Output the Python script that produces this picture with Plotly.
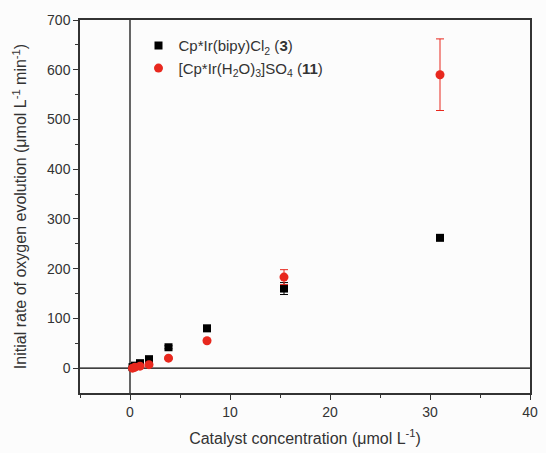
import plotly.graph_objects as go

conc = [0.25, 0.5, 1.0, 1.9, 3.85, 7.7, 15.4, 31.0]
rate3 = [2, 5, 10, 18, 42, 80, 160, 262]
err3 = [1, 1, 1, 2, 3, 6, 12, 5]
rate11 = [0, 2, 4, 7, 20, 55, 183, 590]
err11 = [1, 1, 1, 1, 2, 3, 15, 72]

fig = go.Figure()
fig.add_trace(go.Scatter(
    x=conc, y=rate3, mode="markers", name="Cp*Ir(bipy)Cl<sub>2</sub> (<b>3</b>)",
    marker=dict(symbol="square", size=8, color="black"),
    error_y=dict(type="data", array=err3, color="black", thickness=1, width=4)))
fig.add_trace(go.Scatter(
    x=conc, y=rate11, mode="markers", name="[Cp*Ir(H<sub>2</sub>O)<sub>3</sub>]SO<sub>4</sub> (<b>11</b>)",
    marker=dict(symbol="circle", size=9, color="#e8281e"),
    error_y=dict(type="data", array=err11, color="#e8281e", thickness=1, width=4)))

fig.add_shape(type="line", x0=-5, x1=40, y0=0, y1=0, line=dict(color="black", width=1.2), layer="below")
fig.add_shape(type="line", x0=0, x1=0, y0=-50, y1=700, line=dict(color="black", width=1.2), layer="below")

axis_common = dict(showline=True, linecolor="#333", linewidth=1.5, mirror=True, ticks="outside",
                   ticklen=5, tickcolor="#333", showgrid=False, zeroline=False,
                   tickfont=dict(size=14, color="#333"))
fig.update_xaxes(range=[-5, 40], tickvals=[0, 10, 20, 30, 40],
                 minor=dict(tickvals=[-5, 5, 15, 25, 35], ticks="outside", ticklen=3, tickcolor="#333"),
                 title=dict(text="Catalyst concentration (μmol L<sup>-1</sup>)", font=dict(size=16, color="#333"), standoff=14),
                 **axis_common)
fig.update_yaxes(range=[-50, 700], tickvals=[0, 100, 200, 300, 400, 500, 600, 700],
                 minor=dict(tickvals=[50, 150, 250, 350, 450, 550, 650], ticks="outside", ticklen=3, tickcolor="#333"),
                 title=dict(text="Initial rate of oxygen evolution (μmol L<sup>-1</sup> min<sup>-1</sup>)", font=dict(size=16, color="#333"), standoff=16),
                 **axis_common)

fig.update_layout(
    width=546, height=453, margin=dict(l=80, r=8, t=20, b=60),
    paper_bgcolor="#fcfcfc", plot_bgcolor="#fcfcfc",
    font=dict(family="Liberation Sans, Arial, sans-serif", color="#333"),
    legend=dict(x=0.13, y=0.975, xanchor="left", yanchor="top", bgcolor="rgba(0,0,0,0)",
                font=dict(size=15, color="#333"), tracegroupgap=0),
)
fig.write_html("out.html")
